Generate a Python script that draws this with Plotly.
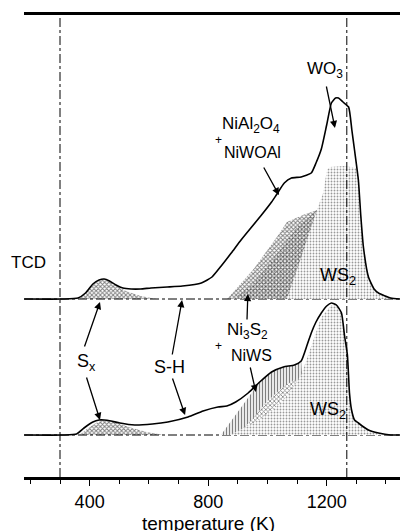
import plotly.graph_objects as go

# ---------------- data (temperature in K, signal in arbitrary units) ----------------
tcd_T = [179, 311, 361, 386, 411, 432, 449, 467, 489, 512, 540, 572, 607, 662, 713, 777, 813, 844, 878, 911,
         944, 980, 1014, 1030, 1057, 1081, 1114, 1148, 1164, 1182, 1200, 1216, 1230, 1240, 1255, 1274, 1285,
         1294, 1307, 1315, 1324, 1341, 1360, 1375, 1416, 1448]
tcd_h = [0, 0, 1, 6, 15, 19, 20, 18, 14, 11, 10, 10, 11, 12, 13, 16, 22, 33, 46, 59,
         71, 84, 97, 104, 116, 121, 122, 126, 136, 150, 174, 196, 201, 201, 197, 192, 169,
         149, 119, 84, 52, 22, 10, 6, 1, 0]

uv_T = [179, 311, 356, 381, 411, 432, 449, 472, 502, 552, 612, 664, 732, 783, 833, 863, 893, 935, 974, 1014,
        1054, 1091, 1114, 1134, 1148, 1164, 1182, 1200, 1216, 1233, 1250, 1260, 1270, 1277, 1284, 1294, 1307,
        1325, 1341, 1375, 1416, 1448]
uv_h = [0, 0, 1, 7, 13, 15, 15, 14, 12, 10, 11, 13, 18, 24, 28, 29, 33, 42, 53, 63,
        68, 70, 74, 90, 102, 113, 122, 129, 132, 130, 122, 100, 80, 42, 25, 15, 12,
        8, 5, 2, 0, 0]

# component areas (TCD)
tcd_sx_T = [366, 391, 416, 449, 482, 522, 572, 627]
tcd_sx_h = [0, 8, 16, 20, 15, 8, 3, 0]
tcd_ni_T = [864, 951, 1032, 1066, 1120, 1167]
tcd_ni_top = [0, 29, 62, 77, 84, 89]
tcd_ni_low = [0, 0, 0, 0, 47, 89]
tcd_ws2_T = [884, 951, 1032, 1100, 1167, 1188, 1201, 1211, 1260, 1290, 1301, 1307, 1315, 1324, 1341, 1360, 1375, 1416]
tcd_ws2_h = [0, 15, 45, 72, 89, 106, 129, 132, 133, 132, 131, 119, 84, 52, 22, 10, 6, 0]

# component areas (UV)
uv_sx_T = [366, 391, 421, 449, 482, 532, 592, 652]
uv_sx_h = [0, 6, 12, 15, 13, 8, 3, 0]
uv_niws_T = [843, 893, 935, 974, 1014, 1054, 1091, 1114, 1129]
uv_niws_h = [0, 20, 38, 53, 63, 68, 70, 74, 0]
uv_ni_T = [893, 944, 994, 1044, 1094, 1124]
uv_ni_h = [0, 14, 32, 46, 56, 0]
uv_ws2_T = [873, 913, 964, 1014, 1064, 1114, 1148, 1182, 1216, 1233, 1250, 1260, 1270, 1277, 1284, 1294, 1307,
            1325, 1341, 1375, 1416]
uv_ws2_h = [0, 6, 14, 24, 38, 60, 90, 118, 130, 130, 122, 100, 80, 42, 25, 15, 12, 8, 5, 2, 0]

ref_temps = [300, 1268]          # dash-dot reference lines
tick_major = [400, 800, 1200]

TCD_BASE = 178
UV_BASE = 42
X_RANGE = [178.5, 1447.5]

FONT = "Liberation Sans, Arial, sans-serif"

fig = go.Figure()

def area(T, top, base, pattern, low=None):
    if low is None:
        low = [0] * len(T)
    xs = list(T) + list(T[::-1])
    ys = [base + v for v in top] + [base + v for v in low[::-1]]
    fig.add_trace(go.Scatter(x=xs, y=ys, mode="lines", line=dict(width=0), fill="toself",
                             fillcolor="rgba(255,255,255,0)", fillpattern=pattern,
                             hoverinfo="skip", showlegend=False))

cross = dict(shape="x", fgcolor="black", bgcolor="rgba(255,255,255,0)", size=3, solidity=0.55)
cross_w = dict(shape="x", fgcolor="black", bgcolor="white", size=3, solidity=0.45)
stipple = dict(shape=".", fgcolor="#333", bgcolor="white", size=3, solidity=0.3)
vert = dict(shape="|", fgcolor="black", bgcolor="white", size=3, solidity=0.45)

# baselines (dash-dot)
for base in (TCD_BASE, UV_BASE):
    fig.add_trace(go.Scatter(x=X_RANGE, y=[base, base], mode="lines",
                             line=dict(color="black", width=1, dash="dashdot"),
                             hoverinfo="skip", showlegend=False))

# TCD components
area(tcd_sx_T, tcd_sx_h, TCD_BASE, cross)
area(tcd_ws2_T, tcd_ws2_h, TCD_BASE, stipple)
area(tcd_ni_T, tcd_ni_top, TCD_BASE, cross, tcd_ni_low)
# UV components
area(uv_sx_T, uv_sx_h, UV_BASE, cross)
area(uv_niws_T, uv_niws_h, UV_BASE, vert)
area(uv_ni_T, uv_ni_h, UV_BASE, cross_w)
area(uv_ws2_T, uv_ws2_h, UV_BASE, stipple)

# main curves
fig.add_trace(go.Scatter(x=tcd_T, y=[TCD_BASE + v for v in tcd_h], mode="lines",
                         line=dict(color="black", width=1.6, shape="spline", smoothing=0.5),
                         showlegend=False))
fig.add_trace(go.Scatter(x=uv_T, y=[UV_BASE + v for v in uv_h], mode="lines",
                         line=dict(color="black", width=1.6, shape="spline", smoothing=0.5),
                         showlegend=False))

# reference vertical lines
for t in ref_temps:
    fig.add_shape(type="line", x0=t, x1=t, y0=0, y1=1, xref="x", yref="paper",
                  line=dict(color="black", width=1, dash="dashdot"))

def label(x, y, text, size=17):
    fig.add_annotation(x=x, y=y, text=text, showarrow=False, xref="x", yref="y",
                       font=dict(family=FONT, size=size, color="black"))

def arrow(hx, hy, tx, ty):
    fig.add_annotation(x=hx, y=hy, ax=tx, ay=ty, xref="x", yref="y", axref="x", ayref="y",
                       text="", showarrow=True, arrowhead=2, arrowsize=1.1, arrowwidth=1.3,
                       arrowcolor="black")

label(194, 215, "TCD")
label(168, 60, "UV")
label(388, 115, "S<sub>x</sub>", 18)
label(671, 110, "S-H", 18)
label(934, 146, "Ni<sub>3</sub>S<sub>2</sub>")
label(947, 122, "NiWS", 16)
label(834, 131, "+", 12)
label(943, 352, "NiAl<sub>2</sub>O<sub>4</sub>")
label(951, 325, "NiWOAl", 16)
label(834, 337, "+", 12)
label(1194, 407, "WO<sub>3</sub>")
label(1238, 201, "WS<sub>2</sub>", 18)
label(1204, 67, "WS<sub>2</sub>", 18)

arrow(1228, 349, 1198, 392)
arrow(1039, 282, 985, 311)
arrow(435, 175, 381, 129)
arrow(435, 57, 388, 101)
arrow(712, 177, 678, 121)
arrow(722, 62, 678, 100)
arrow(934, 183, 931, 156)
arrow(961, 85, 941, 111)

# x-axis title as an annotation (partly cut by the bottom edge, as in the reference)
fig.add_annotation(x=800, y=-0.100, xref="x", yref="paper", text="temperature (K)", showarrow=False,
                   yanchor="middle", font=dict(family=FONT, size=19, color="black"))

fig.update_layout(
    width=400, height=531,
    margin=dict(l=24, r=0, t=15, b=54, autoexpand=False),
    paper_bgcolor="white", plot_bgcolor="white",
    font=dict(family=FONT, size=16, color="black"),
    xaxis=dict(range=X_RANGE, showgrid=False, zeroline=False, showline=True, mirror=True,
               linecolor="black", linewidth=2.5, ticks="outside", ticklen=6, tickwidth=1.2,
               tickcolor="black", tickvals=tick_major, ticktext=[str(v) for v in tick_major],
               tickfont=dict(family=FONT, size=18), ticklabelstandoff=1,
               minor=dict(tick0=0, dtick=100, ticks="outside", ticklen=4, tickcolor="black")),
    yaxis=dict(range=[0, 462], visible=False, showgrid=False, zeroline=False),
)

fig.write_html("out.html", config={"displayModeBar": False},
               post_script="document.body.style.margin='0';document.body.style.overflow='hidden';")
